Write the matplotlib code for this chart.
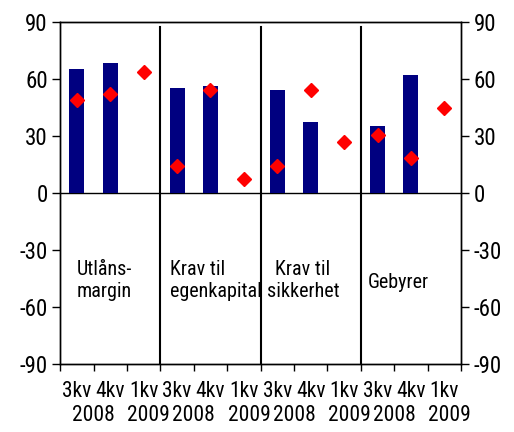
import matplotlib.pyplot as plt
import matplotlib.transforms as mtransforms

plt.rcParams['font.family'] = ['Roboto Condensed', 'Liberation Sans', 'DejaVu Sans']

# data
quarters = ['3kv', '4kv', '1kv'] * 4
years = ['2008', '2009'] * 4
groups = ['Utlåns-\nmargin', 'Krav til\negenkapital', 'Krav til\nsikkerhet', 'Gebyrer']
bars = [65, 68, None, 55, 56, None, 54, 37, None, 35, 62, None]
diamonds = [49, 52, 63.5, 14, 54, 7.5, 14, 54, 27, 30.5, 18.5, 44.5]

fig = plt.figure(figsize=(5.14, 4.32), dpi=100)
ax = fig.add_axes([0.117, 0.157, 0.78, 0.793])

x = list(range(len(quarters)))
bx = [i for i, v in zip(x, bars) if v is not None]
bv = [v for v in bars if v is not None]
ax.bar(bx, bv, width=0.45, color='#000080', zorder=2)
ax.plot(x, diamonds, linestyle='none', marker='D', markersize=7,
        color='#ff0000', zorder=3)

ax.set_xlim(-0.5, 11.5)
ax.set_ylim(-90, 90)
ax.axhline(0, color='black', lw=1, zorder=1)

# group separators
for sep in [2.5, 5.5, 8.5]:
    ax.plot([sep, sep], [-90, 87], color='black', lw=1.5, zorder=1)

# group labels
ax.text(0.0, -46, groups[0], ha='left', va='center', fontsize=14.5, linespacing=1.15)
ax.text(2.79, -46, groups[1], ha='left', va='center', fontsize=14.5, linespacing=1.15)
ax.text(6.77, -46, groups[2], ha='center', va='center', fontsize=14.5, linespacing=1.15)
ax.text(8.72, -47, groups[3], ha='left', va='center', fontsize=14.5)

# y axes
yt = [-90, -60, -30, 0, 30, 60, 90]
ax.set_yticks(yt)
ax.set_yticklabels([str(v) for v in yt], fontsize=16.5)
ax.tick_params(axis='y', direction='out', length=6, width=1, pad=3)
ax2 = ax.twinx()
ax2.set_ylim(-90, 90)
ax2.set_yticks(yt)
ax2.set_yticklabels([str(v) for v in yt], fontsize=16.5)
ax2.tick_params(axis='y', direction='out', length=6, width=1, pad=3)

# x axis: ticks at boundaries, labels at centers
ax.set_xticks([i - 0.5 for i in range(13)])
ax.set_xticklabels([])
ax.tick_params(axis='x', which='major', direction='out', length=5, width=1)
ax.set_xticks(x, minor=True)
ax.set_xticklabels(quarters, minor=True, fontsize=15.5)
ax.tick_params(axis='x', which='minor', length=0, pad=12)

trans = mtransforms.blended_transform_factory(ax.transData, ax.transAxes)
for g in range(4):
    ax.text(3 * g + 0.5, -0.15, years[2 * g], transform=trans, ha='center', va='center', fontsize=15.5)
    ax.text(3 * g + 2.15, -0.15, years[2 * g + 1], transform=trans, ha='center', va='center', fontsize=15.5)

for a in (ax, ax2):
    for s in a.spines.values():
        s.set_linewidth(1)

plt.savefig('out.png', dpi=100)
